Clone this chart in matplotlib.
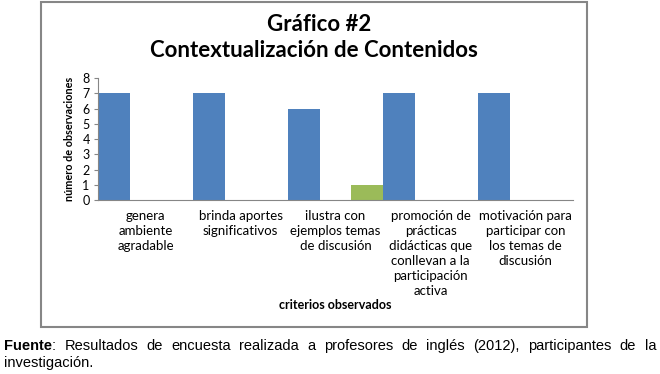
import matplotlib
matplotlib.use('Agg')
import matplotlib.pyplot as plt
from matplotlib.patches import Rectangle

criterios = ['genera\nambiente\nagradable',
             'brinda aportes\nsignificativos',
             'ilustra con\nejemplos temas\nde discusión',
             'promoción de\nprácticas\ndidácticas que\nconllevan a la\nparticipación\nactiva',
             'motivación para\nparticipar con\nlos temas de\ndiscusión']
serie1 = [7, 7, 6, 7, 7]
serie2 = [0, 0, 0, 0, 0]
serie3 = [0, 0, 1, 0, 0]
yticks = [0, 1, 2, 3, 4, 5, 6, 7, 8]

plt.rcParams['font.family'] = ['Lato', 'DejaVu Sans']

fig = plt.figure(figsize=(6.6, 3.74), dpi=100)
fig.patch.set_facecolor('white')

# marco del grafico
fig.patches.append(Rectangle((0.0621, 0.1257), 0.8273, 0.869, transform=fig.transFigure,
                             fill=False, edgecolor='#868686', linewidth=1.5))

ax = fig.add_axes([0.1485, 0.4652, 0.7197, 0.3262])
w = 1 / 3
x = range(len(criterios))
ax.bar([i + w / 2 for i in x], serie1, width=w, color='#4F81BD')
ax.bar([i + 3 * w / 2 for i in x], serie2, width=w, color='#C0504D')
ax.bar([i + 5 * w / 2 for i in x], serie3, width=w, color='#9BBB59')

ax.set_xlim(0, len(criterios))
ax.set_ylim(0, 8)
ax.set_yticks(yticks)
ax.set_xticks([i + 0.5 for i in x])
ax.set_xticklabels(criterios, fontsize=9.5, linespacing=1.3, va='top')
ax.tick_params(axis='x', length=0, pad=7)
ax.tick_params(axis='y', length=3, color='#868686', labelsize=9, pad=3)
for s in ['top', 'right']:
    ax.spines[s].set_visible(False)
ax.spines['left'].set_color('#868686')
ax.spines['bottom'].set_color('#868686')

ax.set_ylabel('número de observaciones', fontsize=7.8, fontweight='bold', labelpad=5)
fig.text(0.508, 0.185, 'criterios observados', fontsize=9, fontweight='bold', ha='center', va='center')
fig.text(0.483, 0.935, 'Gráfico #2', fontsize=16, fontweight='bold', ha='center', va='center')
fig.text(0.475, 0.865, 'Contextualización de Contenidos', fontsize=16, fontweight='bold', ha='center', va='center')

# nota de fuente, justificada
pal = ['Resultados', 'de', 'encuesta', 'realizada', 'a', 'profesores', 'de', 'inglés',
       '(2012),', 'participantes', 'de', 'la']
fuente_kw = dict(fontsize=10.5, family='Liberation Sans', va='center')
fig.canvas.draw()
r = fig.canvas.get_renderer()
y1 = 1 - 346 / 374
t = fig.text(4 / 660, y1, 'Fuente', fontweight='bold', **fuente_kw)
xp = t.get_window_extent(r).x1
t = fig.text(xp / 660, y1, ':', **fuente_kw)
xp = t.get_window_extent(r).x1
tx = [fig.text(0, y1, p, **fuente_kw) for p in pal]
anchos = [q.get_window_extent(r).width for q in tx]
hueco = (656 - xp - sum(anchos)) / len(pal)
for q, a in zip(tx, anchos):
    xp += hueco
    q.set_x(xp / 660)
    xp += a
fig.text(4 / 660, 1 - 363 / 374, 'investigación.', **fuente_kw)

fig.savefig('out.png', dpi=100, facecolor='white')
